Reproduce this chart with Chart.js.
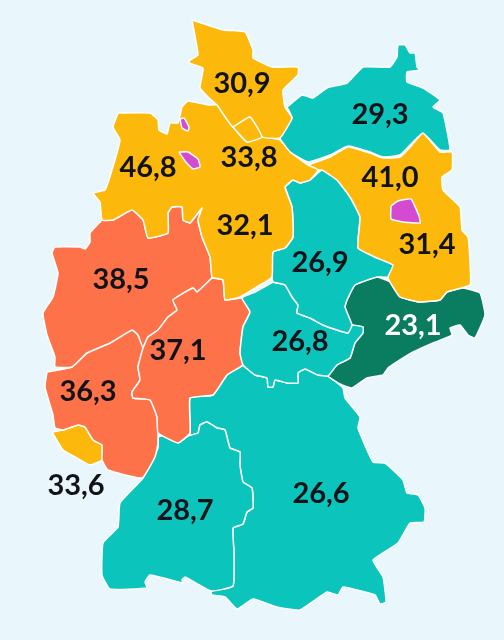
<!DOCTYPE html>
<html lang="de">
<head>
<meta charset="utf-8">
<title>Karte</title>
<script src="https://cdn.jsdelivr.net/npm/chart.js@4"></script>
<style>
    html, body { margin: 0; padding: 0; background: #e9f7fd; }
    #karte { display: block; }
</style>
</head>
<body>
<canvas id="karte" width="504" height="640"></canvas>
<script>
// Werte je Beschriftung
const werte = [30.9, 29.3, 46.8, 33.8, 41.0, 32.1, 31.4, 26.9, 38.5, 23.1, 37.1, 26.8, 36.3, 33.6, 28.7, 26.6];
const werteX = [242, 380, 148, 249, 390, 245, 427, 320, 121, 413, 178, 300, 88, 76, 185, 321];
const werteY = [84, 115, 168, 158, 178, 226, 245, 263, 280, 326, 351, 342, 392, 486, 511, 494];

// Umrisse der Gebiete
const schleswigHolstein = [[192,20],[223,30],[245,32],[253,50],[253,58],[272,67],[298,67],[298,75],[283,90],[285,107],[292,118],[280,138],[262,137],[250,117],[233,127],[217,105],[208,97],[200,88],[203,68],[189,63],[190,60],[198,55]];
const hamburg = [[233,127],[250,117],[262,137],[247,142]];
const niedersachsen = [[118,113],[150,113],[158,120],[159,130],[167,134],[170,123],[178,123],[182,107],[188,101],[208,105],[217,105],[233,127],[247,142],[262,137],[280,140],[290,152],[308,165],[318,170],[310,180],[300,183],[293,180],[285,187],[292,207],[293,237],[285,248],[273,252],[272,277],[260,285],[240,297],[225,300],[223,280],[212,277],[210,257],[202,237],[198,220],[202,208],[190,223],[183,220],[182,207],[172,207],[168,213],[168,233],[148,238],[143,220],[132,210],[113,220],[102,220],[100,202],[93,193],[105,190],[112,170],[120,140],[113,127]];
const bremenNord = [[180,119],[184,118],[189,127],[188,131],[182,128]];
const bremenSued = [[179,152],[188,152],[198,159],[200,167],[193,169],[185,161]];
const mecklenburg = [[287,107],[302,95],[313,98],[327,88],[347,83],[363,67],[390,67],[397,57],[398,45],[405,45],[410,53],[415,53],[417,67],[420,70],[407,72],[407,82],[423,88],[440,100],[433,107],[443,113],[450,150],[440,150],[423,133],[412,143],[400,155],[383,157],[370,152],[348,146],[330,155],[308,162],[290,152],[280,138],[292,118]];
const brandenburg = [[308,165],[330,157],[348,147],[370,153],[383,158],[400,157],[412,145],[423,133],[440,152],[452,152],[452,170],[442,177],[443,190],[460,207],[462,230],[468,237],[470,263],[470,285],[447,292],[440,300],[420,302],[400,297],[390,282],[388,277],[393,265],[377,258],[358,248],[360,217],[350,197],[337,180],[322,170],[318,170]];
const berlin = [[391,206],[398,201],[411,199],[419,216],[420,223],[403,222],[391,219]];
const sachsenAnhalt = [[285,187],[293,180],[300,183],[310,180],[322,170],[337,180],[350,197],[360,217],[358,248],[377,258],[393,265],[388,277],[377,277],[355,285],[347,300],[345,307],[352,325],[348,333],[337,330],[323,325],[310,318],[297,313],[298,305],[292,297],[285,285],[273,282],[272,277],[273,252],[285,248],[293,237],[292,207]];
const thueringen = [[273,282],[285,285],[292,297],[298,305],[297,313],[310,318],[323,325],[337,330],[348,333],[352,325],[363,327],[363,333],[355,343],[350,358],[337,365],[328,376],[318,375],[305,369],[298,373],[298,383],[287,383],[275,380],[273,387],[268,387],[267,378],[255,375],[243,365],[240,353],[243,327],[250,312],[242,298],[255,292]];
const sachsen = [[347,300],[355,285],[377,277],[390,282],[400,297],[420,302],[440,300],[447,292],[463,288],[480,293],[485,315],[475,338],[468,335],[460,325],[450,328],[452,335],[433,343],[413,352],[403,358],[388,368],[383,375],[367,378],[352,388],[342,385],[328,376],[337,365],[350,358],[355,343],[363,333],[363,327],[352,325],[345,307]];
const bayern = [[243,365],[255,375],[267,378],[268,387],[273,387],[275,380],[287,383],[298,383],[298,373],[305,369],[318,375],[328,376],[343,388],[345,398],[360,417],[358,428],[373,462],[385,463],[403,480],[407,493],[418,495],[425,508],[424,522],[410,523],[398,543],[373,560],[383,577],[386,602],[380,604],[375,595],[343,587],[338,595],[327,592],[300,610],[277,607],[253,599],[237,609],[225,597],[212,595],[211,591],[233,586],[234,553],[233,528],[243,524],[247,512],[253,508],[252,488],[243,482],[240,465],[240,452],[230,448],[225,430],[217,428],[207,422],[200,425],[198,433],[188,436],[178,443],[190,433],[190,398],[213,395],[227,375]];
const hessen = [[212,278],[223,280],[225,300],[242,298],[250,312],[243,327],[240,353],[243,365],[227,375],[213,395],[190,398],[190,433],[178,443],[158,433],[157,417],[150,400],[133,398],[132,392],[140,380],[138,367],[143,348],[148,337],[158,330],[168,317],[177,310],[173,300],[193,288],[197,292]];
const nordrheinWestfalen = [[102,220],[113,220],[132,210],[143,220],[148,238],[168,233],[168,213],[172,207],[182,207],[183,220],[190,223],[202,208],[198,220],[202,237],[210,257],[212,277],[212,278],[197,292],[193,288],[173,300],[177,310],[168,317],[158,330],[148,337],[143,348],[138,335],[132,330],[110,343],[87,353],[72,367],[55,367],[55,357],[47,335],[43,313],[53,297],[58,273],[52,253],[55,247],[80,247],[85,249],[90,242],[90,233]];
const rheinlandPfalz = [[47,372],[72,367],[87,353],[110,343],[132,330],[138,335],[143,348],[138,367],[140,380],[132,392],[133,398],[150,400],[157,417],[158,443],[155,457],[142,478],[108,470],[102,460],[102,445],[93,440],[85,427],[78,425],[63,430],[55,428],[53,415],[45,387]];
const saarland = [[52,432],[63,430],[78,425],[85,427],[93,440],[102,445],[102,460],[90,465],[77,458],[63,450]];
const badenWuerttemberg = [[158,437],[165,435],[178,443],[188,436],[198,433],[200,425],[207,422],[217,428],[225,430],[230,448],[240,452],[240,465],[243,482],[252,488],[253,508],[247,512],[243,524],[233,528],[234,553],[233,586],[211,591],[185,577],[182,580],[183,583],[150,575],[145,582],[147,588],[110,589],[102,575],[103,543],[118,527],[120,503],[143,478],[158,448]];

const gelb = '#fdb90b';
const tuerkis = '#0bc5bc';
const orange = '#fe7249';
const gruen = '#0a7c60';
const lila = '#d44bd1';

function gebiet(umriss, farbe) {
    // geschlossener Pfad: erster Punkt kommt am Ende nochmal
    const punkte = umriss.concat([umriss[0]]).map(p => ({ x: p[0], y: p[1] }));
    return {
        data: punkte,
        showLine: true,
        fill: 'shape',
        backgroundColor: farbe,
        borderColor: '#ffffff',
        borderWidth: 1.5,
        borderJoinStyle: 'round',
        pointRadius: 0,
        tension: 0.12
    };
}

const beschriftung = {
    id: 'beschriftung',
    afterDatasetsDraw(chart) {
        const ctx = chart.ctx;
        ctx.save();
        ctx.font = '700 29px Lato';
        ctx.textAlign = 'center';
        ctx.textBaseline = 'middle';
        werte.forEach((w, i) => {
            ctx.fillStyle = w === 23.1 ? '#ffffff' : '#111318';
            ctx.fillText(w.toFixed(1).replace('.', ','), chart.scales.x.getPixelForValue(werteX[i]), chart.scales.y.getPixelForValue(werteY[i]));
        });
        ctx.restore();
    }
};

// die ersten Datensaetze liegen oben
new Chart(document.getElementById('karte'), {
    type: 'scatter',
    data: {
        datasets: [
            gebiet(bremenNord, lila),
            gebiet(bremenSued, lila),
            gebiet(berlin, lila),
            gebiet(hamburg, gelb),
            gebiet(schleswigHolstein, gelb),
            gebiet(niedersachsen, gelb),
            gebiet(mecklenburg, tuerkis),
            gebiet(brandenburg, gelb),
            gebiet(sachsenAnhalt, tuerkis),
            gebiet(thueringen, tuerkis),
            gebiet(sachsen, gruen),
            gebiet(hessen, orange),
            gebiet(nordrheinWestfalen, orange),
            gebiet(rheinlandPfalz, orange),
            gebiet(saarland, gelb),
            gebiet(badenWuerttemberg, tuerkis),
            gebiet(bayern, tuerkis)
        ]
    },
    options: {
        responsive: false,
        animation: false,
        layout: { padding: 0 },
        plugins: { legend: { display: false }, tooltip: { enabled: false } },
        scales: {
            x: { type: 'linear', display: false, min: 0, max: 504 },
            y: { type: 'linear', display: false, min: 0, max: 640, reverse: true }
        }
    },
    plugins: [beschriftung]
});
</script>
</body>
</html>
